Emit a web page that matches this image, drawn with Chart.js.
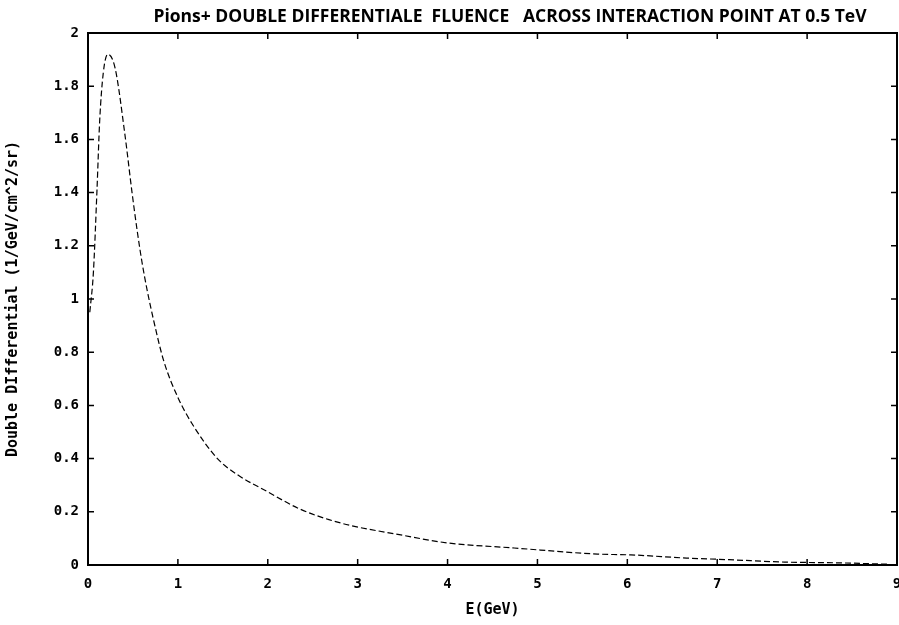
<!DOCTYPE html>
<html>
<head>
<meta charset="utf-8">
<script src="https://cdn.jsdelivr.net/npm/chart.js@4.4.1/dist/chart.umd.min.js"></script>
<style>
  html, body { margin: 0; padding: 0; background: #fff; }
  #wrap { width: 899px; height: 625px; }
</style>
</head>
<body>
<div id="wrap"><canvas id="fluenceChart" width="899" height="625"></canvas></div>
<script>
const energyGeV = [0.02, 0.06, 0.1, 0.13, 0.17, 0.22, 0.3, 0.41, 0.49, 0.55, 0.6, 0.66, 0.73, 0.84, 1.0, 1.16, 1.44, 1.66, 2.0, 2.36, 2.81, 3.48, 4.0, 4.74, 5.67, 6.04, 6.66, 7.13, 7.75, 8.36, 8.9];
const fluence = [0.95, 1.1, 1.41, 1.67, 1.85, 1.92, 1.87, 1.62, 1.4, 1.25, 1.14, 1.03, 0.92, 0.77, 0.63, 0.53, 0.4, 0.34, 0.275, 0.21, 0.158, 0.113, 0.083, 0.064, 0.041, 0.038, 0.026, 0.02, 0.011, 0.008, 0.003];
const xTicks = [0, 1, 2, 3, 4, 5, 6, 7, 8, 9];
const yTicks = [0, 0.2, 0.4, 0.6, 0.8, 1, 1.2, 1.4, 1.6, 1.8, 2];

const chartTitle = "Pions+ DOUBLE DIFFERENTIALE  FLUENCE   ACROSS INTERACTION POINT AT 0.5 TeV";
const monoFont = "'DejaVu Sans Mono', monospace";

// frame, inward ticks and the title (gnuplot look)
const framePlugin = {
  id: "frame",
  afterDatasetsDraw(chart) {
    const { ctx, chartArea: a, scales } = chart;
    ctx.save();
    ctx.strokeStyle = "#000";
    ctx.lineWidth = 2;
    ctx.strokeRect(a.left, a.top, a.right - a.left, a.bottom - a.top);
    ctx.lineWidth = 1.5;
    ctx.beginPath();
    xTicks.forEach((v) => {
      const px = scales.x.getPixelForValue(v);
      ctx.moveTo(px, a.bottom); ctx.lineTo(px, a.bottom - 6);
      ctx.moveTo(px, a.top); ctx.lineTo(px, a.top + 6);
    });
    yTicks.forEach((v) => {
      const py = scales.y.getPixelForValue(v);
      ctx.moveTo(a.left, py); ctx.lineTo(a.left + 6, py);
      ctx.moveTo(a.right, py); ctx.lineTo(a.right - 6, py);
    });
    ctx.stroke();

    ctx.fillStyle = "#000";
    ctx.font = "bold 17.5px 'Open Sans', sans-serif";
    ctx.textAlign = "center";
    ctx.textBaseline = "middle";
    ctx.fillText(chartTitle, 510, 17);
    ctx.restore();
  },
};

const fluenceCtx = document.getElementById("fluenceChart").getContext("2d");

const fluenceChart = new Chart(fluenceCtx, {
  type: "line",
  data: {
    datasets: [
      {
        label: "Pions+",
        data: energyGeV.map((e, i) => ({ x: e, y: fluence[i] })),
        borderColor: "#000",
        borderWidth: 1.2,
        borderDash: [6, 3],
        pointRadius: 0,
        fill: false,
        cubicInterpolationMode: "monotone",
      },
    ],
  },
  options: {
    responsive: false,
    animation: false,
    layout: { padding: { top: 33, right: 2, bottom: 0, left: 0 } },
    plugins: {
      legend: { display: false },
      tooltip: { enabled: false },
    },
    scales: {
      x: {
        type: "linear",
        min: 0,
        max: 9,
        afterFit: (scale) => {
          scale.height = 60;
          scale.paddingLeft = 0;
          scale.paddingRight = 0;
        },
        afterBuildTicks: (scale) => { scale.ticks = xTicks.map((v) => ({ value: v })); },
        grid: { display: false, drawTicks: false },
        border: { display: false },
        ticks: {
          color: "#000",
          padding: 11,
          font: { family: monoFont, size: 14, weight: "bold" },
        },
        title: {
          display: true,
          text: "E(GeV)",
          color: "#000",
          padding: { top: 0, bottom: 6 },
          font: { family: monoFont, size: 15, weight: "bold" },
        },
      },
      y: {
        min: 0,
        max: 2,
        afterFit: (scale) => { scale.width = 88; },
        afterBuildTicks: (scale) => { scale.ticks = yTicks.map((v) => ({ value: v })); },
        grid: { display: false, drawTicks: false },
        border: { display: false },
        ticks: {
          color: "#000",
          padding: 9,
          font: { family: monoFont, size: 14, weight: "bold" },
          callback: (v) => String(v),
        },
        title: {
          display: true,
          text: "Double DIfferential (1/GeV/cm^2/sr)",
          color: "#000",
          padding: { top: 4, bottom: 0 },
          font: { family: monoFont, size: 15, weight: "bold" },
        },
      },
    },
  },
  plugins: [framePlugin],
});
</script>
</body>
</html>
